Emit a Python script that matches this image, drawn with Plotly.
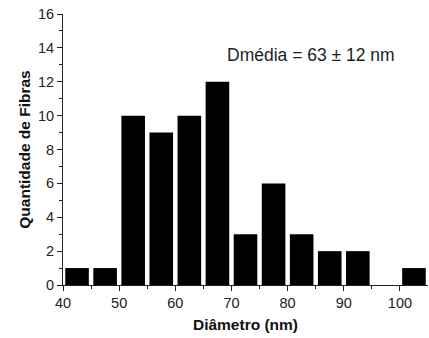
import plotly.graph_objects as go

bin_centers = [42.5, 47.5, 52.5, 57.5, 62.5, 67.5, 72.5, 77.5, 82.5, 87.5, 92.5, 97.5, 102.5]
counts = [1, 1, 10, 9, 10, 12, 3, 6, 3, 2, 2, 0, 1]
annotation_text = "Dmédia = 63 ± 12 nm"

FONT = "Liberation Sans, Arial, sans-serif"

fig = go.Figure()
fig.add_trace(go.Bar(
    x=bin_centers, y=counts, width=4.2,
    marker=dict(color="black", line=dict(width=0)),
))

axis_font = dict(family=FONT, size=14.5, color="#222")
fig.update_layout(
    width=429, height=338,
    margin=dict(l=63, r=1, t=14, b=53, autoexpand=False),
    paper_bgcolor="white", plot_bgcolor="white",
    showlegend=False,
    font=axis_font,
    xaxis=dict(
        range=[40, 105], tickmode="array", tickvals=[40, 50, 60, 70, 80, 90, 100],
        ticks="outside", ticklen=5, tickcolor="#222", showline=True, linecolor="#222",
        linewidth=1, showgrid=False, zeroline=False, tickfont=axis_font,
        minor=dict(tickvals=[45, 55, 65, 75, 85, 95], ticks="outside", ticklen=3, tickcolor="#222"),
        title=dict(text="<b>Diâmetro (nm)</b>", font=dict(family=FONT, size=15.5, color="#111"), standoff=8),
    ),
    yaxis=dict(
        range=[0, 16], tickmode="array", tickvals=[0, 2, 4, 6, 8, 10, 12, 14, 16],
        ticks="outside", ticklen=5, tickcolor="#222", showline=True, linecolor="#222",
        linewidth=1, showgrid=False, zeroline=False, tickfont=axis_font,
        minor=dict(tickvals=[1, 3, 5, 7, 9, 11, 13, 15], ticks="outside", ticklen=3, tickcolor="#222"),
        title=dict(text="<b>Quantidade de Fibras</b>", font=dict(family=FONT, size=15.5, color="#111"), standoff=3),
    ),
    annotations=[dict(
        x=84.2, y=13.6, xref="x", yref="y", text=annotation_text, showarrow=False,
        font=dict(family=FONT, size=17.5, color="#222"),
    )],
)

fig.write_html("out.html", config={"displayModeBar": False},
               post_script="document.body.style.margin='0';")
